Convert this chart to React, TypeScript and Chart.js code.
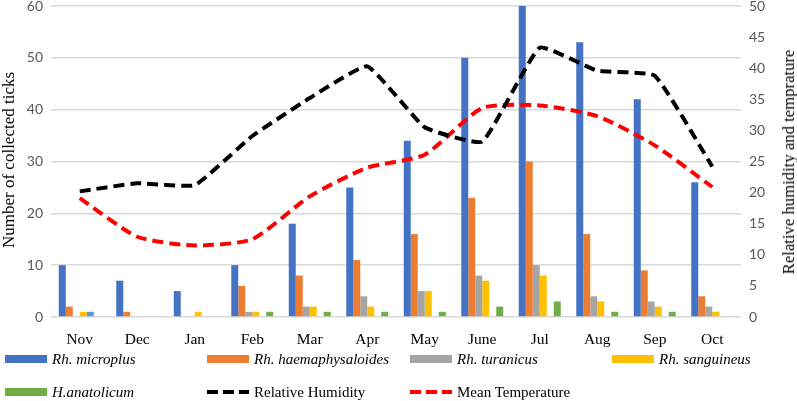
import React, { useEffect, useRef } from "react";
import { Chart, registerables } from "chart.js";

Chart.register(...registerables);

const months = ["Nov", "Dec", "Jan", "Feb", "Mar", "Apr", "May", "June", "Jul", "Aug", "Sep", "Oct"];
const microplus = [10, 7, 5, 10, 18, 25, 34, 50, 60, 53, 42, 26];
const haemaphysaloides = [2, 1, 0, 6, 8, 11, 16, 23, 30, 16, 9, 4];
const turanicus = [0, 0, 0, 1, 2, 4, 5, 8, 10, 4, 3, 2];
const sanguineus = [1, 0, 1, 1, 2, 2, 5, 7, 8, 3, 2, 1];
const unlisted = [1, 0, 0, 0, 0, 0, 0, 0, 0, 0, 0, 0];
const anatolicum = [0, 0, 0, 1, 1, 1, 1, 2, 3, 1, 1, 0];
const humidity = [20.2, 21.5, 21.2, 29.1, 35.2, 40.3, 30.5, 28.2, 43.3, 39.6, 38.8, 24.2];
const temperature = [19.1, 12.9, 11.5, 12.5, 19.4, 24.0, 26.1, 33.6, 34.0, 32.3, 27.6, 20.9];
const leftTicks = [0, 10, 20, 30, 40, 50, 60];
const rightTicks = [0, 5, 10, 15, 20, 25, 30, 35, 40, 45, 50];

const serif = "'Liberation Serif', 'Times New Roman', serif";
const sans = "Lato, 'Liberation Sans', sans-serif";

type LegendItem = { label: string; color: string; italic: boolean; dashed: boolean; x: number; y: number };
const legendItems: LegendItem[] = [
  { label: "Rh. microplus", color: "#4472C4", italic: true, dashed: false, x: 5, y: 359 },
  { label: "Rh. haemaphysaloides", color: "#ED7D31", italic: true, dashed: false, x: 207, y: 359 },
  { label: "Rh. turanicus", color: "#A5A5A5", italic: true, dashed: false, x: 410, y: 359 },
  { label: "Rh. sanguineus", color: "#FFC000", italic: true, dashed: false, x: 612, y: 359 },
  { label: "H.anatolicum", color: "#70AD47", italic: true, dashed: false, x: 5, y: 392 },
  { label: "Relative Humidity", color: "#000000", italic: false, dashed: true, x: 207, y: 392 },
  { label: "Mean Temperature", color: "#FF0000", italic: false, dashed: true, x: 410, y: 392 },
];

export default function App() {
  const ref = useRef<HTMLCanvasElement | null>(null);

  useEffect(() => {
    if (!ref.current) return;
    const bar = (label: string, data: number[], color: string) => ({
      type: "bar" as const,
      label,
      data,
      backgroundColor: color,
      borderWidth: 0,
      yAxisID: "y",
      order: 2,
      categoryPercentage: 0.73,
      barPercentage: 1.0,
    });
    const line = (label: string, data: number[], color: string, tension: number) => ({
      type: "line" as const,
      label,
      data,
      borderColor: color,
      backgroundColor: color,
      borderWidth: 4,
      borderDash: [11, 6],
      pointRadius: 0,
      tension,
      yAxisID: "y1",
      order: 1,
    });
    const fixPad = (axis: any) => {
      axis.paddingTop = 0;
      axis.paddingBottom = 0;
    };
    const chart = new Chart(ref.current, {
      type: "bar",
      data: {
        labels: months,
        datasets: [
          bar("Rh. microplus", microplus, "#4472C4"),
          bar("Rh. haemaphysaloides", haemaphysaloides, "#ED7D31"),
          bar("Rh. turanicus", turanicus, "#A5A5A5"),
          bar("Rh. sanguineus", sanguineus, "#FFC000"),
          bar("", unlisted, "#5B9BD5"),
          bar("H.anatolicum", anatolicum, "#70AD47"),
          line("Relative Humidity", humidity, "#000000", 0.12),
          line("Mean Temperature", temperature, "#FF0000", 0.2),
        ] as any,
      },
      options: {
        animation: false,
        responsive: false,
        maintainAspectRatio: false,
        layout: { padding: { top: 6, bottom: 0, left: 0, right: 0 } },
        plugins: { legend: { display: false }, tooltip: { enabled: false } },
        scales: {
          x: {
            grid: { display: false },
            border: { display: false },
            ticks: { color: "#000", font: { family: serif, size: 15.5 }, padding: 6, maxRotation: 0 },
            afterFit: (axis: any) => { axis.height = 84; axis.paddingLeft = 0; axis.paddingRight = 0; },
          },
          y: {
            position: "left",
            min: 0,
            max: 60,
            afterBuildTicks: (axis: any) => { axis.ticks = leftTicks.map((v) => ({ value: v })); },
            grid: { color: "#D9D9D9", lineWidth: 1.5, drawTicks: false },
            border: { display: false },
            ticks: { color: "#595959", font: { family: sans, size: 14 }, padding: 8 },
            afterFit: (axis: any) => { axis.width = 51; fixPad(axis); },
          },
          y1: {
            position: "right",
            min: 0,
            max: 50,
            afterBuildTicks: (axis: any) => { axis.ticks = rightTicks.map((v) => ({ value: v })); },
            grid: { display: false, drawTicks: false },
            border: { display: false },
            ticks: { color: "#595959", font: { family: sans, size: 14 }, padding: 8 },
            afterFit: (axis: any) => { axis.width = 56; fixPad(axis); },
          },
        },
      } as any,
    });
    return () => chart.destroy();
  }, []);

  return (
    <div style={{ position: "fixed", left: 0, top: 0, width: 797, height: 401, background: "#fff", overflow: "hidden" }}>
      <canvas ref={ref} width={797} height={401} style={{ position: "absolute", left: 0, top: 0, width: 797, height: 401 }} />
      <div
        style={{
          position: "absolute", left: 9, top: 160, transform: "translate(-50%, -50%) rotate(-90deg)",
          fontFamily: serif, fontSize: 17, color: "#000", whiteSpace: "nowrap",
        }}
      >
        Number of collected ticks
      </div>
      <div
        style={{
          position: "absolute", left: 789, top: 162, transform: "translate(-50%, -50%) rotate(-90deg)",
          fontFamily: serif, fontSize: 16.7, color: "#000", whiteSpace: "nowrap",
        }}
      >
        Relative humidity and temprature
      </div>
      {legendItems.map((it) => (
        <div key={it.label} style={{ position: "absolute", left: it.x, top: it.y - 10, height: 20, display: "flex", alignItems: "center" }}>
          <div
            style={{
              width: 42,
              height: it.dashed ? 4 : 8,
              background: it.dashed
                ? `repeating-linear-gradient(to right, ${it.color} 0px, ${it.color} 11px, transparent 11px, transparent 16px)`
                : it.color,
            }}
          />
          <span style={{ marginLeft: 5, fontFamily: serif, fontSize: 15, fontStyle: it.italic ? "italic" : "normal", color: "#000", whiteSpace: "nowrap" }}>
            {it.label}
          </span>
        </div>
      ))}
    </div>
  );
}
